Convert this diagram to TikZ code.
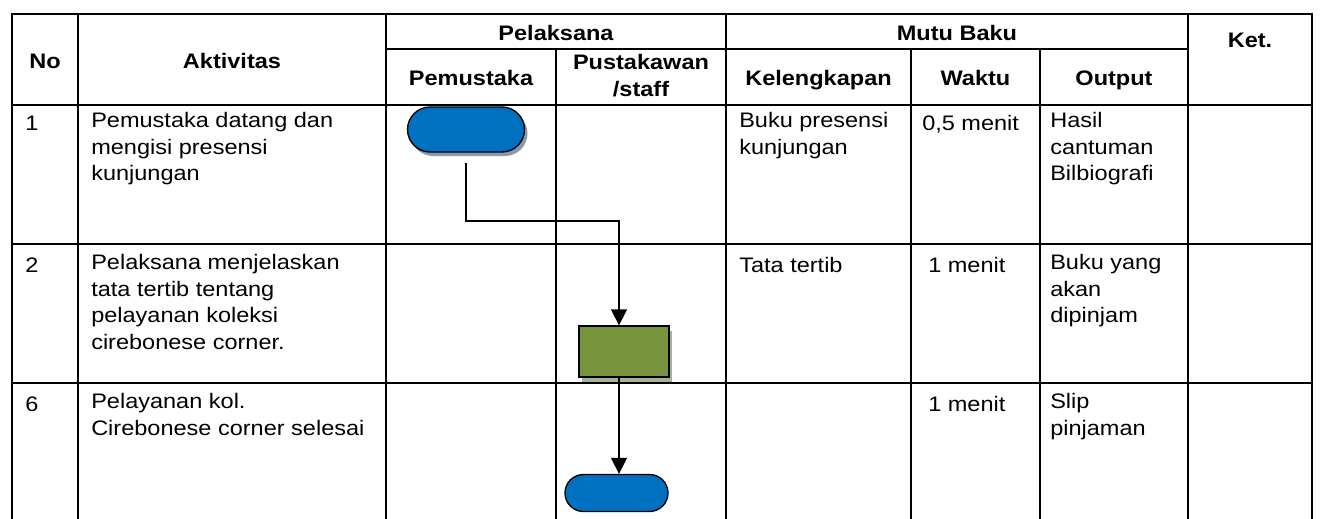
\documentclass[tikz,border=0pt]{standalone}
\usepackage{fontspec}
\setmainfont{Liberation Sans}[FakeStretch=1.12]
\usetikzlibrary{arrows.meta,shapes.misc,shadows}

\definecolor{termblue}{HTML}{0070C0}
\definecolor{procgreen}{HTML}{77933C}
\definecolor{termshadow}{HTML}{8C99AC}
\definecolor{procshadow}{HTML}{A7B396}

\begin{document}
\begin{tikzpicture}[x=0.75pt, y=-0.75pt,
  grid/.style={line width=1.3pt, line cap=rect},
  cell/.style={inner sep=0pt, anchor=north west, align=left,
    font=\fontsize{15.75}{20}\selectfont, execute at begin node=\strut},
  head/.style={inner sep=0pt, anchor=base,
    font=\bfseries\fontsize{15.75}{20}\selectfont},
  terminal/.style={rounded rectangle, draw, line width=1pt,
    fill=termblue, inner sep=0pt},
  process/.style={rectangle, draw, line width=1pt, fill=procgreen,
    minimum width=67.5pt, minimum height=38.25pt, inner sep=0pt,
    drop shadow={shadow xshift=2.5pt, shadow yshift=-4pt,
      fill=procshadow, opacity=1}},
  flow/.style={line width=1.2pt, -{Triangle[width=12pt,length=12pt]}}]

\useasboundingbox (0,0) rectangle (1339,518);

% Table lines
\draw[grid] (12,14) -- (1312,14);
\draw[grid] (386,49) -- (1188,49);
\foreach \y in {105,244,383}
  \draw[grid] (12,\y) -- (1312,\y);
\foreach \x in {12,78,386,726,1188,1312}
  \draw[grid] (\x,14) -- (\x,518);
\foreach \x in {556,911,1040}
  \draw[grid] (\x,49) -- (\x,518);

% Header
\node[head] (hNo) at (45,68) {No};
\node[head] (hAkt) at (232,68) {Aktivitas};
\node[head] (hPel) at (556,40) {Pelaksana};
\node[head] (hMutu) at (957,40) {Mutu Baku};
\node[head] (hPem) at (471,85) {Pemustaka};
\node[head, anchor=north, align=center, execute at begin node=\strut]
  (hPus) at (641,54) {Pustakawan\\/staff};
\node[head] (hKel) at (818.5,85) {Kelengkapan};
\node[head] (hWak) at (975.5,85) {Waktu};
\node[head] (hOut) at (1114,85) {Output};
\node[head] (hKet) at (1250,47) {Ket.};

% Row 1
\node[cell] (n1) at (25,112) {1};
\node[cell] (a1) at (91,112) {Pemustaka datang dan\\mengisi presensi\\kunjungan};
\node[cell] (k1) at (739,112) {Buku presensi\\kunjungan};
\node[cell] (w1) at (922,112) {0,5 menit};
\node[cell] (o1) at (1050,112) {Hasil\\cantuman\\Bilbiografi};

% Row 2
\node[cell] (n2) at (25,254) {2};
\node[cell] (a2) at (91,254) {Pelaksana menjelaskan\\tata tertib tentang\\pelayanan koleksi\\cirebonese corner.};
\node[cell] (k2) at (739,254) {Tata tertib};
\node[cell] (w2) at (928,254) {1 menit};
\node[cell] (o2) at (1050,254) {Buku yang\\akan\\dipinjam};

% Row 3
\node[cell] (n3) at (25,393) {6};
\node[cell] (a3) at (91,393) {Pelayanan kol.\\Cirebonese corner selesai};
\node[cell] (w3) at (928,393) {1 menit};
\node[cell] (o3) at (1050,393) {Slip\\pinjaman};

% Flow symbols
\node[terminal, minimum width=87.75pt, minimum height=33.75pt,
  drop shadow={shadow xshift=2.25pt, shadow yshift=-3pt,
    fill=termshadow, opacity=1}] (start) at (466,129.5) {};
\node[process] (proc) at (624,351.5) {};
\node[terminal, minimum width=77.25pt, minimum height=27.75pt]
  (stop) at (616.5,493) {};

% Connectors
\coordinate (turn) at (619,221);
\draw[flow, shorten <=8pt] (start.south) |- (turn) -- (turn |- proc.north);
\draw[flow] (turn |- proc.south) -- (turn |- stop.north);

\end{tikzpicture}
\end{document}
